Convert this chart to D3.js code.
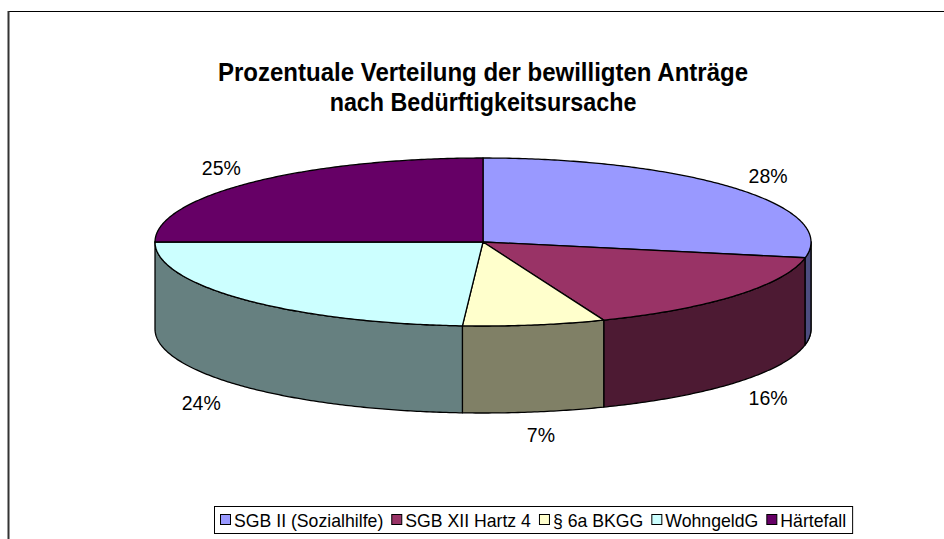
<!DOCTYPE html>
<html>
<head>
<meta charset="utf-8">
<script src="https://cdn.jsdelivr.net/npm/d3@7"></script>
<style>
  html, body { margin: 0; padding: 0; background: #fff; }
  svg { display: block; font-family: "Liberation Sans", Arial, sans-serif; }
</style>
</head>
<body>
<div id="container"></div>
<script>
const width = 944;
const height = 539;

// data
const categories = ["SGB II (Sozialhilfe)", "SGB XII Hartz 4", "§ 6a BKGG", "WohngeldG", "Härtefall"];
const values = [28, 16, 7, 24, 25];
const topColors = ["#9999FF", "#993366", "#FFFFCC", "#CCFFFF", "#660066"];
const sideColors = ["#4D4D80", "#4D1A33", "#808066", "#668080", "#330033"];
const titleLines = ["Prozentuale Verteilung der bewilligten Anträge", "nach Bedürftigkeitsursache"];

const cx = 483, cy = 242, rx = 328, ry = 84, depth = 87;

const svg = d3.select("#container")
    .append("svg")
    .attr("width", width)
    .attr("height", height);

// chart area border (right/bottom run off the picture)
svg.append("rect")
    .attr("x", 8.5)
    .attr("y", 11.5)
    .attr("width", 1000)
    .attr("height", 600)
    .attr("fill", "#fff")
    .attr("stroke", "#000")
    .attr("stroke-width", 1);
svg.append("line")
    .attr("x1", 8.5).attr("x2", 8.5)
    .attr("y1", 11).attr("y2", height)
    .attr("stroke", "#333")
    .attr("stroke-width", 2);

// title: the original type is a little narrow, so squeeze it to width
const title = svg.append("g")
    .selectAll("text")
    .data(titleLines)
    .enter()
    .append("text")
    .attr("x", cx)
    .attr("y", (d, i) => 81 + i * 30)
    .attr("text-anchor", "middle")
    .style("font-size", "25px")
    .style("font-weight", "bold")
    .text((d) => d);
const squeeze = 530 / title.nodes()[0].getComputedTextLength();
title.each(function () {
    const w = this.getComputedTextLength();
    d3.select(this)
        .attr("textLength", w * squeeze * 0.97)
        .attr("lengthAdjust", "spacingAndGlyphs");
});
title.filter((d, i) => i === 0).attr("textLength", 530);

const pie = d3.pie().sort(null).startAngle(0).endAngle(2 * Math.PI);
const arcs = pie(values);

const px = (a, r = rx) => cx + r * Math.sin(a);
const py = (a, r = ry) => cy - r * Math.cos(a);
const sample = (a0, a1) => {
    const n = Math.max(2, Math.ceil(Math.abs(a1 - a0) / 0.01));
    return d3.range(n + 1).map((i) => a0 + (a1 - a0) * i / n);
};
const line = d3.line();

// side walls (front half only: angles between PI/2 and 3PI/2)
const sides = svg.append("g");
const wall = (a0, a1, color) => {
    const topPts = sample(a0, a1).map((a) => [px(a), py(a)]);
    const botPts = sample(a1, a0).map((a) => [px(a), py(a) + depth]);
    sides.append("path")
        .attr("d", line(topPts.concat(botPts)) + "Z")
        .attr("fill", color)
        .attr("stroke", "#000")
        .attr("stroke-width", 1.3)
        .attr("stroke-linejoin", "round");
};
arcs.forEach((d, i) => {
    const a0 = Math.max(d.startAngle, Math.PI / 2);
    const a1 = Math.min(d.endAngle, 3 * Math.PI / 2);
    if (a1 > a0) wall(a0, a1, sideColors[i]);
});
// thin sliver of the first slice's wall on the right edge
if (arcs[0].endAngle > Math.PI / 2) wall(Math.PI / 2 - 0.001, arcs[0].endAngle, sideColors[0]);

// top faces
svg.append("g")
    .selectAll("path")
    .data(arcs)
    .enter()
    .append("path")
    .attr("d", (d) => line([[cx, cy]].concat(sample(d.startAngle, d.endAngle).map((a) => [px(a), py(a)]))) + "Z")
    .attr("fill", (d, i) => topColors[i])
    .attr("stroke", "#000")
    .attr("stroke-width", 1.3)
    .attr("stroke-linejoin", "round");

// labels: just outside the rim (the lower rim for front slices)
const mid = (d) => (d.startAngle + d.endAngle) / 2;
svg.append("g")
    .selectAll("text")
    .data(arcs)
    .enter()
    .append("text")
    .attr("x", (d) => px(mid(d)) + 42 * Math.sin(mid(d)) - (Math.sin(mid(d)) < 0 && Math.cos(mid(d)) < 0 ? 12 : 0))
    .attr("y", (d) => {
        const m = mid(d);
        const front = Math.cos(m) < 0;
        return py(m) - (front ? 24 : 20) * Math.cos(m) + (front ? depth : 0);
    })
    .attr("dy", "0.35em")
    .attr("text-anchor", "middle")
    .style("font-size", "19.5px")
    .text((d) => d.value + "%");

// legend
const legend = svg.append("g");
const legendBox = legend.append("rect")
    .attr("fill", "#fff")
    .attr("stroke", "#000")
    .attr("stroke-width", 1);
const items = legend.append("g");
const legendSqueeze = 0.93;
let lx = 0;
const ly = 520;
categories.forEach((c, i) => {
    items.append("rect")
        .attr("x", lx + 0.5)
        .attr("y", ly - 5.5)
        .attr("width", 10)
        .attr("height", 10)
        .attr("fill", topColors[i])
        .attr("stroke", "#000");
    const t = items.append("text")
        .attr("x", lx + 14)
        .attr("y", ly)
        .attr("dy", "0.35em")
        .style("font-size", "19px")
        .text(c);
    const w = t.node().getComputedTextLength() * legendSqueeze;
    t.attr("textLength", w).attr("lengthAdjust", "spacingAndGlyphs");
    lx += 14 + w + 8;
});
const legendW = lx - 8 + 12;
const legendX = Math.round(533 - legendW / 2);
items.attr("transform", `translate(${legendX + 6},0)`);
legendBox
    .attr("x", legendX + 0.5)
    .attr("y", 506.5)
    .attr("width", legendW)
    .attr("height", 27);
</script>
</body>
</html>
